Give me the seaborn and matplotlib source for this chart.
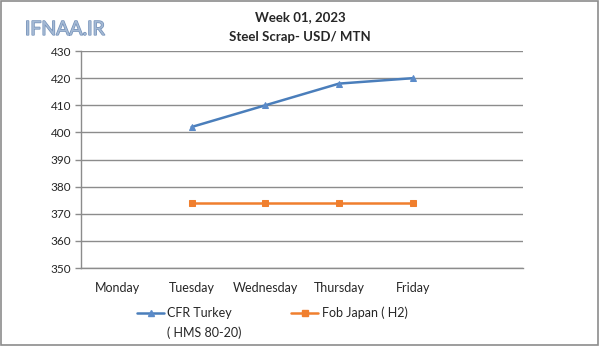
import matplotlib
matplotlib.use("Agg")
import matplotlib.pyplot as plt
import seaborn as sns
import pandas as pd
import numpy as np
from matplotlib.patches import Rectangle
from matplotlib.lines import Line2D
import matplotlib.patheffects as pe

days = ["Monday", "Tuesday", "Wednesday", "Thursday", "Friday"]
cfr_days = ["Tuesday", "Wednesday", "Thursday", "Friday"]
cfr_turkey = [402, 410, 418, 420]
fob_japan = [374, 374, 374, 374]
series_names = ["CFR Turkey\n( HMS 80-20)", "Fob Japan ( H2)"]
yticks = [350, 360, 370, 380, 390, 400, 410, 420, 430]

sns.set_theme(style="white")
plt.rcParams['font.family'] = ['Lato', 'DejaVu Sans']

pos = {d: i for i, d in enumerate(days)}
df = pd.DataFrame({
    "day": cfr_days + cfr_days,
    "value": cfr_turkey + fob_japan,
    "series": [series_names[0]] * 4 + [series_names[1]] * 4,
})
df["x"] = df["day"].map(pos)

fig = plt.figure(figsize=(6, 3.46), dpi=100)
ax = fig.add_axes([0.135, 0.2254, 0.737, 0.627])

blue_line, blue_mk, orange = "#4A7EBB", "#5B8BC9", "#F07F2E"
palette = {series_names[0]: blue_line, series_names[1]: orange}
markers = {series_names[0]: "^", series_names[1]: "s"}
sns.lineplot(data=df, x="x", y="value", hue="series", style="series",
             palette=palette, markers=markers, dashes=False, markersize=5,
             linewidth=1.8, ax=ax, legend=False, sort=False)
for l in ax.lines:
    if l.get_marker() == "^":
        l.set_markerfacecolor(blue_mk); l.set_markeredgecolor(blue_mk)
    else:
        l.set_markerfacecolor(orange); l.set_markeredgecolor(orange)

ax.set_xlim(-0.5, 5.5)
ax.set_ylim(350, 430)
ax.set_yticks(yticks)
ax.set_yticklabels([str(v) for v in yticks], fontsize=8.5)
ax.yaxis.grid(True, color="#8C8C8C", linewidth=1)
ax.set_xticks(range(len(days)))
ax.set_xticklabels(days, fontsize=9)
ax.set_xticks(np.arange(-0.5, 6.0, 1.0), minor=True)
ax.tick_params(axis="x", which="major", length=0, pad=10)
ax.tick_params(axis="x", which="minor", length=4, color="#8C8C8C", width=1)
ax.tick_params(axis="y", length=4, color="#8C8C8C", width=1, left=True, pad=3)
ax.set_xlabel("")
ax.set_ylabel("")
for s in ["top", "right"]:
    ax.spines[s].set_visible(False)
for s in ["left", "bottom"]:
    ax.spines[s].set_color("#8C8C8C")
    ax.spines[s].set_linewidth(1)

fig.text(0.5, 0.952, "Week 01, 2023", ha="center", va="center", fontsize=9.5, fontweight="bold")
fig.text(0.5, 0.892, "Steel Scrap- USD/ MTN", ha="center", va="center", fontsize=9.5, fontweight="bold")

wm = fig.text(0.108, 0.915, "IFNAA.IR", ha="center", va="center", fontsize=14,
              color="#A4B9D4")
wm.set_path_effects([pe.withStroke(linewidth=1.0, foreground="#7390B8")])

handles = [Line2D([], [], color=blue_line, marker="^", markersize=5, linewidth=1.8,
                  markerfacecolor=blue_mk, markeredgecolor=blue_mk),
           Line2D([], [], color=orange, marker="s", markersize=5, linewidth=1.8)]
first_lines = [n.split("\n")[0] for n in series_names]
leg = fig.legend(handles, first_lines, loc="center left", bbox_to_anchor=(0.228, 0.095),
                 ncol=2, frameon=False, fontsize=9, handlelength=2.2, columnspacing=4.7,
                 handletextpad=0.25, borderaxespad=0, borderpad=0)
fig.canvas.draw()
t0 = leg.get_texts()[0]
bb = t0.get_window_extent().transformed(fig.transFigure.inverted())
fig.text(bb.x0, 0.038, series_names[0].split("\n")[1], ha="left", va="center", fontsize=9)

fig.patches.append(Rectangle((0.002, 0.003), 0.995, 0.994, transform=fig.transFigure,
                             fill=False, edgecolor="#8C8C8C", linewidth=1.2))
fig.savefig("out.png", dpi=100)
